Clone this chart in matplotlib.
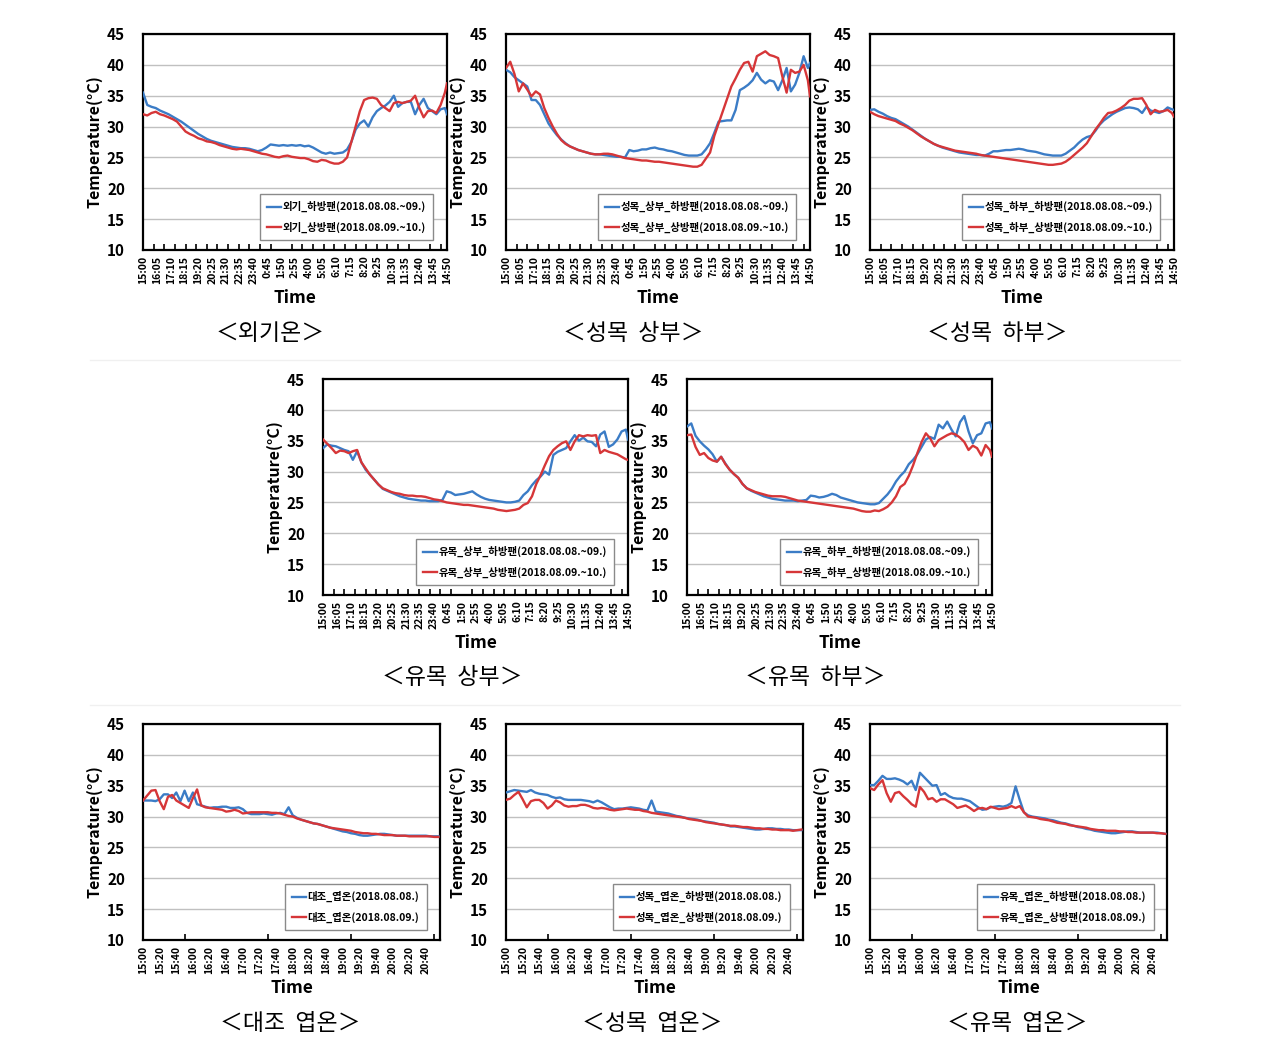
import numpy as np
import matplotlib
matplotlib.use("Agg")
import matplotlib.pyplot as plt
from matplotlib.ticker import FixedLocator

plt.rcParams['font.family'] = ['Noto Sans CJK KR', 'DejaVu Sans']

# ---------------- data ----------------
# top five charts: 20-minute readings from 15:00 to 14:40, plus 14:50
TOP_TICKS = ['15:00', '16:05', '17:10', '18:15', '19:20', '20:25', '21:30', '22:35',
             '23:40', '0:45', '1:50', '2:55', '4:00', '5:05', '6:10', '7:15', '8:20',
             '9:25', '10:30', '11:35', '12:40', '13:45', '14:50']
BOT_TICKS = ['15:00', '15:20', '15:40', '16:00', '16:20', '16:40', '17:00', '17:20',
             '17:40', '18:00', '18:20', '18:40', '19:00', '19:20', '19:40', '20:00',
             '20:20', '20:40']

outdoor_down = [35.5, 33.5, 33.2, 33.0, 32.6, 32.3, 32.0, 31.6, 31.2,
                30.8, 30.3, 29.8, 29.3, 28.8, 28.4, 28.0, 27.7, 27.5,
                27.3, 27.1, 26.9, 26.7, 26.6, 26.5, 26.5, 26.4, 26.2,
                26.0, 26.2, 26.6, 27.1, 27.0, 26.9, 27.0, 26.9, 27.0,
                26.9, 27.0, 26.8, 26.9, 26.6, 26.2, 25.8, 25.6, 25.8,
                25.6, 25.7, 25.8, 26.3, 27.5, 29.5, 30.5, 31.0, 30.0,
                31.5, 32.5, 33.0, 33.4, 34.0, 35.0, 33.2, 33.8, 34.0,
                34.0, 32.0, 33.5, 34.5, 33.0, 32.5, 32.0, 32.8, 33.0,
                32.0]
outdoor_up = [32.0, 31.8, 32.2, 32.4, 32.0, 31.8, 31.5, 31.2, 30.8,
              30.0, 29.2, 28.8, 28.5, 28.1, 27.9, 27.6, 27.5, 27.3,
              27.0, 26.8, 26.6, 26.4, 26.3, 26.4, 26.3, 26.2, 26.0,
              25.8, 25.6, 25.5, 25.3, 25.1, 25.0, 25.2, 25.3, 25.1,
              25.0, 24.9, 24.9, 24.7, 24.4, 24.3, 24.6, 24.5, 24.2,
              24.0, 24.0, 24.3, 25.0, 27.5, 30.0, 32.5, 34.3, 34.6,
              34.7, 34.5, 33.5, 33.0, 32.5, 33.8, 34.0, 33.8, 34.0,
              34.2, 35.0, 33.0, 31.5, 32.5, 32.6, 32.2, 33.5, 35.5,
              37.0]

adult_top_down = [39.2, 38.8, 38.0, 37.5, 37.0, 36.5, 34.3, 34.3, 33.5,
                  32.0, 30.5, 29.5, 28.6, 27.9, 27.3, 26.8, 26.5, 26.2,
                  26.0, 25.8, 25.6, 25.5, 25.5, 25.4, 25.3, 25.2, 25.1,
                  25.1, 25.0, 26.2, 26.0, 26.1, 26.3, 26.3, 26.5, 26.6,
                  26.4, 26.3, 26.1, 26.0, 25.8, 25.6, 25.4, 25.3, 25.3,
                  25.3, 25.5, 26.3, 27.3, 29.0, 30.8, 30.9, 31.0, 31.0,
                  32.7, 35.9, 36.3, 36.8, 37.5, 38.7, 37.6, 37.0, 37.5,
                  37.3, 35.9, 37.5, 39.5, 35.7, 36.8, 38.7, 41.4, 39.5,
                  40.3]
adult_top_up = [39.5, 40.5, 38.5, 35.7, 37.0, 36.0, 34.9, 35.7, 35.2,
                33.0, 31.4, 30.0, 28.8, 27.8, 27.2, 26.8, 26.5, 26.2,
                26.0, 25.8, 25.6, 25.5, 25.5, 25.6, 25.6, 25.5, 25.3,
                25.1, 24.9, 24.8, 24.7, 24.6, 24.5, 24.5, 24.4, 24.3,
                24.3, 24.2, 24.1, 24.0, 23.9, 23.8, 23.7, 23.6, 23.5,
                23.5, 23.8, 24.8, 25.8, 28.5, 30.5, 32.5, 34.5, 36.5,
                37.8, 39.2, 40.3, 40.5, 38.9, 41.4, 41.8, 42.2, 41.6,
                41.4, 41.1, 38.1, 35.5, 39.2, 38.7, 38.9, 40.0, 37.5,
                34.9]

adult_bot_down = [32.7, 32.8, 32.4, 32.1, 31.7, 31.4, 31.2, 30.8, 30.4,
                  30.0, 29.5, 29.0, 28.5, 28.0, 27.6, 27.2, 26.9, 26.6,
                  26.4, 26.2, 26.0, 25.8, 25.7, 25.6, 25.5, 25.4, 25.4,
                  25.3, 25.6, 26.0, 26.0, 26.1, 26.2, 26.2, 26.3, 26.4,
                  26.3, 26.1, 26.0, 25.9, 25.7, 25.5, 25.4, 25.3, 25.3,
                  25.3, 25.6, 26.1, 26.6, 27.3, 27.9, 28.3, 28.5, 29.3,
                  30.3, 31.0, 31.5, 32.0, 32.4, 32.7, 33.0, 33.1, 33.0,
                  32.8, 32.2, 33.2, 32.6, 32.4, 32.2, 32.5, 33.1, 32.8,
                  32.7]
adult_bot_up = [32.4, 32.0, 31.7, 31.5, 31.3, 31.1, 30.9, 30.5, 30.2,
                29.8, 29.4, 28.9, 28.4, 28.0, 27.6, 27.2, 26.9, 26.7,
                26.5, 26.3, 26.1, 26.0, 25.9, 25.8, 25.7, 25.6, 25.4,
                25.3, 25.2, 25.1, 25.0, 24.9, 24.8, 24.7, 24.6, 24.5,
                24.4, 24.3, 24.2, 24.1, 24.0, 23.9, 23.8, 23.8, 23.9,
                24.0, 24.3, 24.8, 25.4, 26.0, 26.6, 27.3, 28.4, 29.5,
                30.4, 31.4, 32.2, 32.3, 32.6, 33.0, 33.5, 34.2, 34.5,
                34.5, 34.6, 33.5, 32.0, 32.7, 32.4, 32.5, 32.7, 32.2,
                31.6]

young_top_down = [33.8, 34.4, 34.2, 34.1, 33.8, 33.5, 33.3, 31.9, 33.3,
                  31.5, 30.3, 29.5, 28.7, 27.9, 27.2, 26.9, 26.6, 26.3,
                  26.0, 25.8, 25.6, 25.5, 25.4, 25.3, 25.3, 25.2, 25.2,
                  25.2, 25.4, 26.8, 26.6, 26.2, 26.3, 26.4, 26.6, 26.8,
                  26.3, 25.9, 25.6, 25.4, 25.3, 25.2, 25.1, 25.0, 25.0,
                  25.1, 25.3, 26.2, 26.8, 27.8, 28.6, 29.2, 30.0, 29.5,
                  32.7, 33.2, 33.5, 33.8, 34.9, 35.9, 35.0, 35.5, 34.9,
                  34.8, 34.1, 36.0, 36.5, 34.0, 34.4, 35.2, 36.5, 36.8,
                  35.2]
young_top_up = [35.2, 34.5, 33.8, 33.0, 33.4, 33.3, 33.0, 33.3, 33.5,
                31.5, 30.5, 29.5, 28.7, 27.9, 27.3, 27.0, 26.7, 26.5,
                26.4, 26.2, 26.1, 26.1, 26.0, 26.0, 25.9, 25.7, 25.5,
                25.4, 25.2, 25.0, 24.9, 24.8, 24.7, 24.6, 24.6, 24.5,
                24.4, 24.3, 24.2, 24.1, 24.0, 23.8, 23.7, 23.6, 23.7,
                23.8, 24.0, 24.6, 24.9, 26.0, 28.0, 29.4, 31.0, 32.5,
                33.5, 34.1, 34.6, 34.9, 33.5, 34.9, 35.9, 35.7, 35.9,
                35.8, 35.9, 33.0, 33.5, 33.2, 33.0, 32.8, 32.4, 32.0,
                31.9]

young_bot_down = [37.3, 37.8, 35.8, 34.9, 34.2, 33.6, 32.8, 31.6, 32.4,
                  31.3, 30.3, 29.6, 29.0, 28.0, 27.3, 26.9, 26.6, 26.3,
                  26.0, 25.8, 25.6, 25.5, 25.4, 25.3, 25.3, 25.3, 25.2,
                  25.3, 25.4, 26.1, 26.0, 25.8, 25.9, 26.1, 26.4, 26.2,
                  25.8, 25.6, 25.4, 25.2, 25.0, 24.9, 24.8, 24.7, 24.7,
                  24.9, 25.6, 26.3, 27.2, 28.4, 29.3, 30.0, 31.2, 31.9,
                  32.8, 34.0, 35.2, 35.6, 35.3, 37.6, 37.0, 38.1, 36.8,
                  35.7, 38.0, 39.0, 36.5, 34.6, 35.9, 36.2, 37.8, 38.0,
                  37.0]
young_bot_up = [35.9, 36.0, 34.0, 32.7, 33.0, 32.2, 31.8, 31.6, 32.4,
                31.2, 30.3, 29.6, 29.0, 28.0, 27.3, 27.0, 26.7, 26.5,
                26.3, 26.1, 26.0, 26.0, 26.0, 25.9, 25.7, 25.5, 25.3,
                25.2, 25.1, 25.0, 24.9, 24.8, 24.7, 24.6, 24.5, 24.4,
                24.3, 24.2, 24.1, 24.0, 23.8, 23.6, 23.5, 23.5, 23.7,
                23.6, 23.9, 24.3, 25.0, 26.0, 27.5, 28.0, 29.3, 31.0,
                33.0, 34.8, 36.2, 35.4, 34.1, 35.1, 35.5, 35.9, 36.2,
                36.0, 35.5, 34.8, 33.5, 34.2, 33.8, 32.6, 34.3, 33.5,
                32.4]

# bottom three charts: 5-minute readings from 15:00 to 20:55 (leaf temperature)
ctrl_leaf_0808 = [32.6, 32.6, 32.6, 32.5, 32.8, 33.6, 33.6, 33.0, 33.9, 32.5, 34.2, 32.5,
                  33.9, 32.0, 31.8, 31.6, 31.4, 31.5, 31.5, 31.6, 31.6, 31.4, 31.4, 31.5,
                  31.2, 30.6, 30.4, 30.4, 30.4, 30.5, 30.4, 30.3, 30.5, 30.6, 30.4, 31.5,
                  30.2, 29.8, 29.5, 29.3, 29.1, 28.9, 28.8, 28.6, 28.4, 28.2, 28.0, 27.8,
                  27.6, 27.5, 27.3, 27.2, 27.0, 26.9, 26.9, 27.0, 27.1, 27.2, 27.2, 27.1,
                  27.0, 26.9, 26.9, 26.9, 26.9, 26.9, 26.9, 26.9, 26.9, 26.8, 26.8, 26.8]
ctrl_leaf_0809 = [32.6, 33.4, 34.2, 34.3, 32.5, 31.2, 33.2, 33.5, 32.6, 32.2, 31.8, 31.4,
                  33.0, 34.4, 31.8, 31.5, 31.4, 31.3, 31.2, 31.1, 30.8, 30.9, 31.1, 30.9,
                  30.5, 30.6, 30.7, 30.7, 30.7, 30.7, 30.7, 30.6, 30.6, 30.5, 30.3, 30.1,
                  30.0, 29.7, 29.5, 29.3, 29.1, 28.9, 28.8, 28.6, 28.4, 28.2, 28.1, 28.0,
                  27.9, 27.8, 27.7, 27.5, 27.4, 27.3, 27.3, 27.2, 27.2, 27.1, 27.0, 27.0,
                  27.0, 26.9, 26.9, 26.9, 26.8, 26.8, 26.8, 26.8, 26.8, 26.8, 26.7, 26.7]

adult_leaf_down = [33.9, 34.1, 34.3, 34.2, 34.1, 34.0, 34.3, 33.9, 33.7, 33.6, 33.5, 33.2,
                   33.0, 33.1, 32.8, 32.7, 32.7, 32.7, 32.7, 32.6, 32.5, 32.3, 32.6, 32.3,
                   31.9, 31.5, 31.2, 31.3, 31.3, 31.4, 31.5, 31.4, 31.3, 31.1, 31.0, 32.6,
                   30.8, 30.7, 30.6, 30.5, 30.3, 30.1, 30.0, 29.8, 29.7, 29.6, 29.5, 29.3,
                   29.2, 29.1, 29.0, 28.8, 28.7, 28.6, 28.4, 28.4, 28.3, 28.2, 28.1, 28.0,
                   27.9, 27.9, 28.0, 28.1, 28.1, 28.0, 28.0, 27.9, 27.9, 27.8, 27.8, 27.8]
adult_leaf_up = [32.7, 32.9, 33.5, 34.0, 32.8, 31.5, 32.5, 32.7, 32.7, 32.2, 31.3, 31.8,
                 32.6, 32.3, 31.8, 31.6, 31.7, 31.7, 31.9, 31.9, 31.7, 31.4, 31.3, 31.4,
                 31.3, 31.1, 31.0, 31.1, 31.2, 31.3, 31.2, 31.1, 31.1, 30.9, 30.8, 30.6,
                 30.5, 30.4, 30.3, 30.2, 30.1, 30.0, 29.9, 29.8, 29.6, 29.5, 29.4, 29.3,
                 29.1, 29.0, 28.9, 28.8, 28.7, 28.6, 28.5, 28.5, 28.4, 28.3, 28.3, 28.2,
                 28.1, 28.1, 28.0, 28.0, 27.9, 27.9, 27.8, 27.8, 27.8, 27.7, 27.8, 27.9]

young_leaf_down = [35.1, 35.1, 35.8, 36.6, 36.1, 36.1, 36.2, 36.0, 35.7, 35.2, 35.8, 34.3,
                   37.1, 36.4, 35.7, 35.0, 35.1, 33.5, 33.8, 33.3, 33.0, 32.9, 32.9, 32.7,
                   32.5, 32.0, 31.5, 31.1, 31.2, 31.5, 31.6, 31.7, 31.6, 31.8, 32.2, 34.9,
                   32.7, 30.7, 30.2, 30.0, 29.9, 29.8, 29.7, 29.5, 29.4, 29.2, 29.0, 28.9,
                   28.7, 28.5, 28.3, 28.2, 28.0, 27.9, 27.7, 27.6, 27.5, 27.4, 27.3, 27.3,
                   27.4, 27.5, 27.6, 27.6, 27.5, 27.4, 27.4, 27.4, 27.4, 27.4, 27.3, 27.2]
young_leaf_up = [34.6, 34.3, 35.2, 35.9, 33.8, 32.4, 33.8, 34.0, 33.3, 32.7, 32.0, 31.6,
                 34.8, 34.0, 32.8, 33.0, 32.4, 32.8, 32.8, 32.4, 32.0, 31.4, 31.6, 31.8,
                 31.4, 30.9, 31.3, 31.4, 31.2, 31.6, 31.4, 31.2, 31.3, 31.4, 31.7, 31.4,
                 31.7, 30.7, 30.0, 29.9, 29.8, 29.6, 29.5, 29.4, 29.2, 29.0, 28.9, 28.8,
                 28.6, 28.5, 28.4, 28.3, 28.2, 28.0, 27.9, 27.8, 27.8, 27.7, 27.7, 27.7,
                 27.6, 27.6, 27.5, 27.5, 27.4, 27.4, 27.4, 27.4, 27.4, 27.3, 27.3, 27.2]

# ---------------- drawing ----------------
BLUE = '#3b7cc6'
RED = '#d63638'
W, H = 1273, 1046

fig = plt.figure(figsize=(W / 100, H / 100), dpi=100)


def rect(l, t, r, b):
    return [l / W, 1 - b / H, (r - l) / W, (b - t) / H]


top_t = list(np.arange(0, 1440, 20)) + [1430]
bot_t = list(np.arange(0, 360, 5))


def make_axes(box, t, blue, red, lab_b, lab_r, ticks, step, xmax, caption, cap_xy):
    ax = fig.add_axes(rect(*box))
    ax.plot(t, blue, color=BLUE, lw=1.7, label=lab_b, zorder=3)
    ax.plot(t, red, color=RED, lw=1.7, label=lab_r, zorder=3)
    ax.set_xlim(0, xmax)
    ax.set_ylim(10, 45)
    ax.set_yticks(range(10, 46, 5))
    ax.yaxis.grid(True, color='#c0c0c0', lw=1.0)
    ax.set_axisbelow(True)
    ax.set_xticks([i * step for i in range(len(ticks))])
    ax.set_xticklabels(ticks, rotation=90, fontsize=7.5, fontweight='bold')
    ax.xaxis.set_minor_locator(FixedLocator(list(range(0, int(xmax) + 1, 50))))
    ax.tick_params(axis='x', which='major', length=0, pad=4)
    ax.tick_params(axis='x', which='minor', length=4, direction='in', width=1.2)
    ax.tick_params(axis='y', length=0, labelsize=11, pad=13)
    for lb in ax.get_yticklabels():
        lb.set_fontweight('bold')
    for s in ax.spines.values():
        s.set_linewidth(1.6)
        s.set_color('black')
    ax.set_ylabel('Temperature(°C)', fontsize=11.5, fontweight='bold', labelpad=3)
    ax.set_xlabel('Time', fontsize=12.5, fontweight='bold', labelpad=4)
    leg = ax.legend(loc='lower right', bbox_to_anchor=(0.955, 0.045), fontsize=7.5,
                    frameon=True, fancybox=False, edgecolor='#8a8a8a', framealpha=1,
                    handlelength=1.3, handletextpad=0.2, borderpad=0.7,
                    labelspacing=0.9, borderaxespad=0)
    leg.get_frame().set_linewidth(1.0)
    for tx in leg.get_texts():
        tx.set_fontweight('bold')
    fig.text(cap_xy[0] / W, 1 - cap_xy[1] / H, caption, ha='center', va='center',
             fontsize=16.5)
    return ax


# row 1
make_axes((143, 34, 447, 250), top_t, outdoor_down, outdoor_up,
          '외기_하방팬(2018.08.08.~09.)', '외기_상방팬(2018.08.09.~10.)',
          TOP_TICKS, 65, 1430, '＜외기온＞', (270, 333))
make_axes((506, 34, 810, 250), top_t, adult_top_down, adult_top_up,
          '성목_상부_하방팬(2018.08.08.~09.)', '성목_상부_상방팬(2018.08.09.~10.)',
          TOP_TICKS, 65, 1430, '＜성목  상부＞', (633, 333))
make_axes((870, 34, 1174, 250), top_t, adult_bot_down, adult_bot_up,
          '성목_하부_하방팬(2018.08.08.~09.)', '성목_하부_상방팬(2018.08.09.~10.)',
          TOP_TICKS, 65, 1430, '＜성목  하부＞', (997, 333))
# row 2
make_axes((323, 379, 628, 595), top_t, young_top_down, young_top_up,
          '유목_상부_하방팬(2018.08.08.~09.)', '유목_상부_상방팬(2018.08.09.~10.)',
          TOP_TICKS, 65, 1430, '＜유목  상부＞', (452, 678))
make_axes((687, 379, 992, 595), top_t, young_bot_down, young_bot_up,
          '유목_하부_하방팬(2018.08.08.~09.)', '유목_하부_상방팬(2018.08.09.~10.)',
          TOP_TICKS, 65, 1430, '＜유목  하부＞', (815, 678))
# row 3
make_axes((143, 724, 440, 940), bot_t, ctrl_leaf_0808, ctrl_leaf_0809,
          '대조_엽온(2018.08.08.)', '대조_엽온(2018.08.09.)',
          BOT_TICKS, 20, 357, '＜대조  엽온＞', (290, 1023))
make_axes((506, 724, 803, 940), bot_t, adult_leaf_down, adult_leaf_up,
          '성목_엽온_하방팬(2018.08.08.)', '성목_엽온_상방팬(2018.08.09.)',
          BOT_TICKS, 20, 357, '＜성목  엽온＞', (652, 1023))
make_axes((870, 724, 1167, 940), bot_t, young_leaf_down, young_leaf_up,
          '유목_엽온_하방팬(2018.08.08.)', '유목_엽온_상방팬(2018.08.09.)',
          BOT_TICKS, 20, 357, '＜유목  엽온＞', (1017, 1023))

# faint separators between rows
for yy in (360, 705):
    fig.add_artist(plt.Line2D([90 / W, 1180 / W], [1 - yy / H, 1 - yy / H],
                              color='#f0f0f0', lw=1))

fig.savefig('out.png', dpi=100)
